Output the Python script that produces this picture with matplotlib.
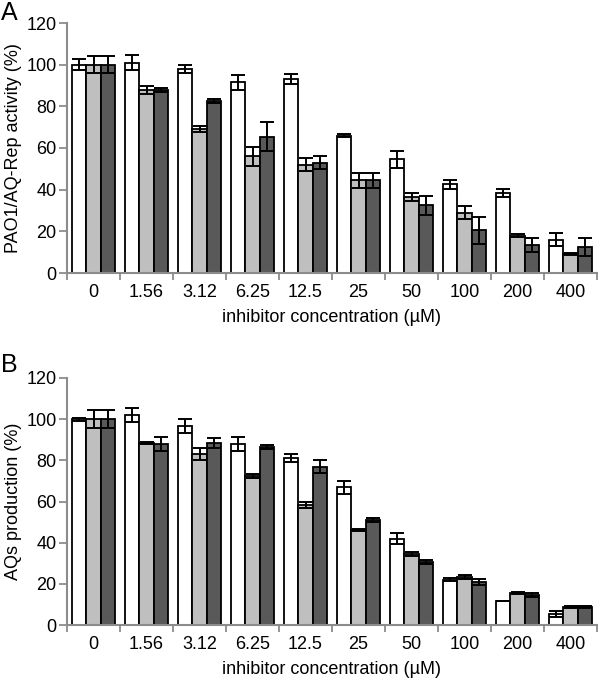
import matplotlib.pyplot as plt
import numpy as np

plt.rcParams['font.family'] = ['Liberation Sans', 'DejaVu Sans']

concentrations = ['0', '1.56', '3.12', '6.25', '12.5', '25', '50', '100', '200', '400']

# panel A: PAO1/AQ-Rep activity (%)
a_white = [100, 101, 98, 91.5, 93, 66, 54.5, 42.5, 38.5, 16]
a_white_err = [2.5, 3.5, 2, 3.5, 2.5, 0.5, 4, 2, 2, 3]
a_light = [100, 88, 69, 56, 52, 44.5, 36.5, 29, 18, 9]
a_light_err = [4, 2, 1.5, 4.5, 3, 3.5, 2, 3, 0.5, 0.5]
a_dark = [100, 88, 82.5, 65.5, 53, 44.5, 32.5, 20.5, 13.5, 12.5]
a_dark_err = [4, 1, 1, 7, 3, 3.5, 4.5, 6.5, 3.5, 4.5]

# panel B: AQs production (%)
b_white = [100, 102, 96.5, 88, 81, 67, 42, 22, 11.5, 5.5]
b_white_err = [0.8, 3.5, 3.4, 3.3, 2, 3.2, 2.5, 0.8, 0, 1.5]
b_light = [100, 88.5, 83, 72.5, 58.5, 46, 34.5, 23.5, 15.5, 8.8]
b_light_err = [4.5, 0.5, 3, 1, 1.5, 0.5, 1, 1, 0.3, 0.3]
b_dark = [100, 88, 88.5, 86.5, 77, 51, 30.5, 21, 14.5, 8.8]
b_dark_err = [4.5, 3.5, 2.5, 1, 3.3, 1, 1, 1.5, 1, 0.3]

colors = ['white', '#bfbfbf', '#595959']
axis_gray = '#8c8c8c'
fs = 13


def draw_panel(ax, series, errors, ylabel):
    x = np.arange(len(concentrations)) + 0.5
    w = 0.265
    for k, (vals, errs) in enumerate(zip(series, errors)):
        ax.bar(x + (k - 1) * w, vals, w, color=colors[k], edgecolor='black',
               linewidth=1.3, yerr=errs, error_kw=dict(ecolor='black', elinewidth=1.4,
                                                      capsize=5, capthick=1.4))
    ax.set_xlim(0, len(concentrations))
    ax.set_ylim(0, 120)
    ax.set_yticks(range(0, 121, 20))
    ax.set_xticks(range(0, len(concentrations) + 1))
    ax.set_xticklabels([])
    ax.set_xticks(x, minor=True)
    ax.set_xticklabels(concentrations, minor=True)
    ax.tick_params(axis='x', which='minor', length=0, pad=8, labelsize=fs)
    ax.tick_params(axis='x', which='major', length=5, width=1.3, color=axis_gray)
    ax.tick_params(axis='y', length=5.5, width=1.3, color=axis_gray, labelsize=fs, pad=2)
    for s in ['top', 'right']:
        ax.spines[s].set_visible(False)
    for s in ['left', 'bottom']:
        ax.spines[s].set_color(axis_gray)
        ax.spines[s].set_linewidth(1.5)
    ax.set_ylabel(ylabel, fontsize=fs, labelpad=3)
    ax.set_xlabel('inhibitor concentration (µM)', fontsize=fs, labelpad=6)


fig = plt.figure(figsize=(6, 6.84), dpi=100)
ax1 = fig.add_axes([67 / 600, 1 - 273 / 684, 530 / 600, 250 / 684])
ax2 = fig.add_axes([67 / 600, 1 - 625 / 684, 530 / 600, 247 / 684])

draw_panel(ax1, [a_white, a_light, a_dark], [a_white_err, a_light_err, a_dark_err],
           'PAO1/AQ-Rep activity (%)')
draw_panel(ax2, [b_white, b_light, b_dark], [b_white_err, b_light_err, b_dark_err],
           'AQs production (%)')

fig.text(1 / 600, 1 - 1 / 684, 'A', fontsize=18, ha='left', va='top')
fig.text(1 / 600, 1 - 353 / 684, 'B', fontsize=18, ha='left', va='top')

fig.savefig('out.png', dpi=100)
